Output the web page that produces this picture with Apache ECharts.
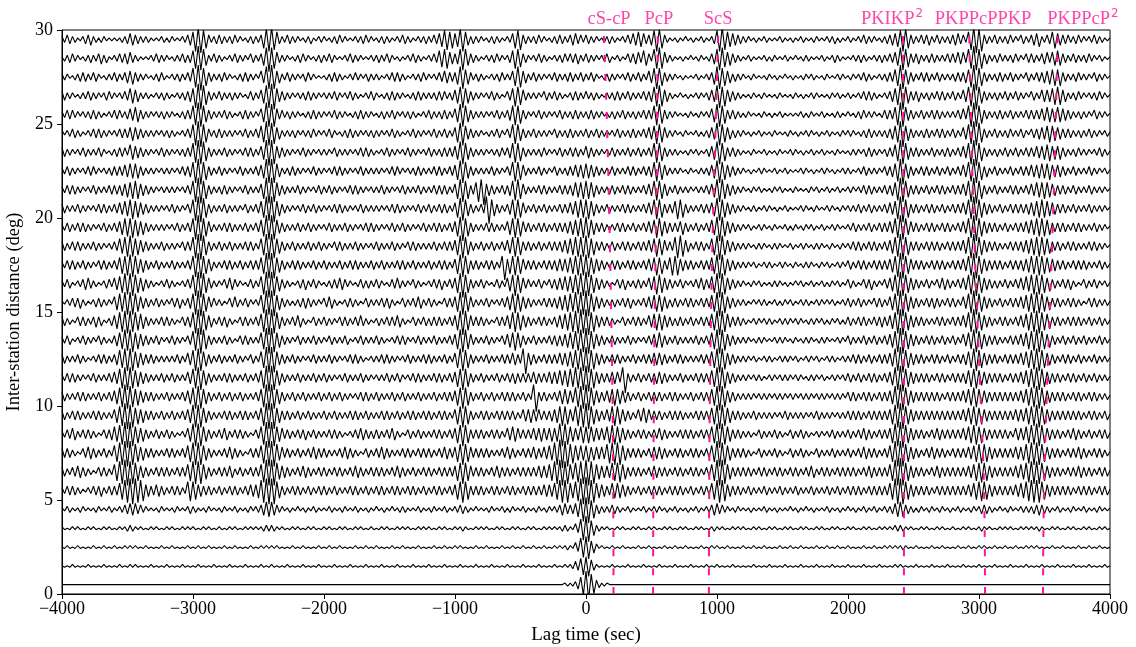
<!DOCTYPE html>
<html><head><meta charset="utf-8">
<script src="https://cdn.jsdelivr.net/npm/echarts@6/dist/echarts.min.js"></script>
<style>html,body{margin:0;padding:0;background:#fff}#c{width:1136px;height:647px}</style>
</head><body><div id="c"></div>
<script>
// ---- sample grid of the traces: each chunk = 400 s, one sample every 20 s, starting at -4000 s
const T0 = -4000, STEP = 20, CHUNK_SEC = 400;
// amplitude code: j..a = -10..-1, 0..9 = 0..9 (units of 0.08 deg)
const CODE = 'jihgfedcba0123456789';
const UNIT = 0.08;

const traceDistances = [0.5,1.5,2.5,3.5,4.5,5.5,6.5,7.5,8.5,9.5,10.5,11.5,12.5,13.5,14.5,15.5,16.5,17.5,18.5,19.5,20.5,21.5,22.5,23.5,24.5,25.5,26.5,27.5,28.5,29.5];

const traceWaves = [
// 0.5
"00000000000000000000 00000000000000000000 00000000000000000000 00000000000000000000 00000000000000000000 00000000000000000000 00000000000000000000 00000000000000000000 00000000000000000000 0000000000001a1a2c5g 9j7f3b1a100000000000 00000000000000000000 00000000000000000000 00000000000000000000 00000000000000000000 00000000000000000000 00000000000000000000 00000000000000000000 00000000000000000000 000000000000000000000",
// 1.5
"0a0a1a0a0a1a0a0a1a0a 0a1a0a1a1a0a0a1a0a0a 1a0a0a1a0a0a1a0a0a1a 0a0a1a0a0a1a0a0a1a0a 1a0a0a1a0a0a1a0a0a1a 0a0a1a0a0a1a0a0a1a0a 0a1a0a0a1a0a0a1a0a0a 1a0a0a1a0a0a1a0a0a1a 0a0a1a0a0a1a0a0a1a0a 0a1a0a0a1a0a1a1b3c5f 6g4c1a0a0a1a0a0a1a0a 0a1a0a0a1a0a0a1a0a0a 1a0a0a1a0a1a0a0a1a0a 0a0a1a0a0a1a0a0a1a0a 0a1a0a0a1a0a0a1a0a0a 1a0a0a1a0a0a1a0a0a1a 1a0a0a1a0a0a1a0a0a1a 0a0a1a0a0a1a0a0a1a0a 0a1a0a0a1a0a0a1a0a0a 1a0a0a1a0a0a1a0a0a1a0",
// 2.5
"0a1a0a1a0a0a1a0a1a0a 1a0a1a1a1a0a1a0a0a1a 0a1a0a0a1a0a1a0a1a0a 0a1a0a1a0a0a1a0a1a1a 1a1a0a0a1a0a1a0a0a1a 0a1a0a1a0a0a1a0a1a0a 1a0a0a1a0a1a0a0a1a0a 0a1a0a1a0a1a1a0a0a1a 0a1a0a0a1a0a1a0a1a0a 1a0a1a0a1a1a1b1a3c6g 7h4d2a1a0a1a0a1a0a0a 1a0a1a0a0a1a0a1a0a1a 0a0a1a0a1a1a0a1a0a0a 1a0a1a0a1a0a0a1a0a1a 0a1a0a0a1a0a1a0a1a0a 1a0a0a1a0a1a0a1a1a1a 1b1a0a1a0a0a1a0a1a0a 0a1a0a1a0a1a1a0a1a0a 1a0a1a0a1a1a1a0a0a1a 0a1a0a0a1a0a1a0a1a0a0",
// 3.5
"1a0a1a1a0a1a1a0a1a1a 0a1a1b2b1a1a0a1a1a0a 1a1a0a1a1a1a0a1a1a0a 1a0a1a1a0a1a1a1a1b2b 2b1a1a0a1a1a0a1a1a0a 1a1a0a1a1a0a1a1a0a1a 0a1a1a0a1a1a1a0a1a1a 1a0a1a1a0a1a1b1a0a1a 1a1a0a1a1a0a1a1a0a1a 1a0a1a1a1a1b2b1a3c6h 8i5e2b1a1a0a1a1a0a1a 1a0a1a1a0a1a1a0a1a1a 0a1a1a0a1b1a1a0a1a1a 1a0a1a1a0a1a1a0a1a1a 0a1a1a0a1a1a0a1a1a0a 1a1a0a1a1a0a1a1a1a2b 2b1a1a0a1a1a0a1a1a0a 1a0a1a1a0a1b1a1a0a1a 1a1a0a1a1a1a1b1a0a1a 1a0a1a1a0a1a1a0a1a1a0",
// 4.5
"1a2b1a1b2a1a1b2a1a2b 1a2b3c4d4c3b2a1a1b2a 1a1b2a1a2c2b1a1b2a1a 1b2a1a2b1a1b2a2b3d5e 5d3b2a1b1a2a1b1a2b1a 1a2b1a1b2a1a2b1a1b1a 2a1b1a2a1b2b1a1a2b1a 1b2a1a2b1a2b3c2b1a2a 1a1b2a1a2b1b2a1a2b1a 1b2a1b2a2b3d4c3c4e7h 8i6f3c2b2b3c2b1a2b1a 1a2b1a2b2a1b1a2b1a1b 1a2b1a2b3d4c3b2a1b2a 1a1b1a1a2b1a1b1a1a2a 1b1a2a1b1a1a2b1a1b1a 2a1b1a2b1a2b1a2b2c4e 5e3c2b1b2a1b2a1b2a1b 1a2b1a1b2a2c3c2b1a2a 1b2a1a2b2b2c3d3c2b1a 2b1a1b2a1a2b1a1b2a1a1",
// 5.5
"2b3c3c2b1a2b3c3d2b3c 3c5f7h8i8h7g4d3c4d3c 2b3c3c2b6g6f4d3c3c2b 3c2b3c3c2b3c4d4e7h8i 8i6e3c2b3c3c2b3c2b3c 3c2b3c2b2b3c3c2b3c2b 3c3c2b3c3c2b3c3c2b3c 2b3c3c2b3c4f6h6f3c3c 3c2b3c3c2b3c3c2b3c3c 3c3c4d4d5f7h7h5e6g8i 9i7h5e4d3c5e5e4d3c2b 3c2b3c3c3c2b3c3c3c2b 3c2b3c3c5f7h7g4d3c3c 2b3c2b2b3c2b2b3c2b2b 3c2b2b3c2b2b3c2b3c2b 3c3c3c2b3c3c3c3c5f8i 8i6f4d3c3c3c2b3c3c3c 3c3c3c4d5f6g6f4d3c3c 3c3c4d5e6g7h7h6f4d3c 3c3c3c2b3c3c3c2b3c3c1",
// 6.5
"3c2b3c4d3c2b1a3c3c2b 5f7h8i7h6f4d3c2b3c3c 3c2b3c3c5f7h7h5e3c2b 3c3c4d2b3c2b3c3c5g8i 8i6e4d3c2b3c4d3c2b3c 3c2b3c3c2b3c4d3c2b3c 3c3c2b3c4d3c2b3c2b3c 3c2b3c3c3c4f6h6f4c3c 3c2b3c4d3c3c2b3c3c3c 3c4d4d5f7h8i7h5e6g7h 8i7h5e4d4d6f6g5e3c3c 3c2b3c4d3c3c2b3c3c2b 3c3c2b3c5f8i8h5e3c3c 3c3c2b3c3c2b3c3c2b3c 3c2b3c4d2b3c3c2b3c3c 3c3c2b3c4d3c3c3c5f8i 9i6f4d3c3c2b3c4d3c3c 3c3c3c4d5f6g6f4d3c3c 3c3c4d5e6g7h7h6f4d3c 3c2b3c3c4d3c3c2b3c3c1",
// 7.5
"3c3c2b1a3c4d3c2b3c2b 5f7h8i8h6f4e3c3c2b2b 3c3c2b3c5f7h7h5e3c2b 2b3c4d3c2b1a3c3c5g8i 8i6e4c3c2b3c2b3c4d3c 3c2b2b3c4d3c2b1a3c2b 3c4d3c2b2b3c3c2b3c3c 3c2b3c4d3c4f6h6f4c3c 3c3c2b2b3c4d3c2b3c3c 4d3c4d5e7h9j8i6g5e5e 5f4e4d4d6g7h7h5e3c3c 3c2b3c4d4d3c2b3c3c2b 3c3c2b3c5f8i7h5e3c3c 3c2b1a3c2b2b3c2b1a3c 2b3c2b1a3c2b2b3c2b2b 3c2b3c4d3c3c2b3c5f8i 8i6f4d3c2b3c4d3c3c2b 3c3c3c4d5f6g6f4d3c3c 3c3c4d4e6g7h7h6f4d3c 3c2b3c3c4d3c2b3c3c2b1",
// 8.5
"2b3c4d2b3c3c2b1a3c3d 5e6g8i8h5f4e3c2b3c2b 3c2b1a2b4e7h7h5e3c2b 3c4d2b3c3c2b1a3c5g8i 8h5e4c3c2b3c3d2b3c2b 2b3c3c2b1a2b3c4d3c2c 3c2b3c4d2b1a3c2b3c2b 2b3c3c2b3c4f6h6f3c3c 3c2b3c3c2b4d5e4c3c3c 4d4e4d4e4e7h7g5e4d5f 5f5e4d4d5f6g5f4d3c2b 3c3c2b3c4d3c2b2b3c3c 3c2b3c3c5f7i7g5e3c3c 2b2b1a3c2b2b3c2b1a3c 2b3c2b1a2b2a2b3c2b2b 3c2b3c4d3c2b3c3c4f7h 8i6f4d3c3c2b3c4d3c3c 3c3c4d5f6g5f4d3c3c3c 3c2b4d4d5f6g7h6f4d3c 3c2b3c4d3c2b3c2b3c3c1",
// 9.5
"3c2b3c3c2b2b3c3c2b2b 4e6g8i7h5f4e3c3c2b3c 2b3c2b3c4e7h7h5e3c2b 2b3c3c2b3c3c2b3c5g8i 8i5e3c3c2b3c2b3c2b2b 3c2b3c2b2b3c3c2b3c2b 2b3c3c2b3c2b3c3c2b3c 3c2b3c3c2b4f6h6f3c2b 3c3c2b3c3c3c3c2b4d4e 4d4c3c3d4e6g6f4d6g7h 8i6f4d3c4d6g6f4d3c2b 4d5e4c3c3c2b3c3c3c2b 2b3c3c3c5f7i7g5e3c3c 2b2b3c2b2b2b2a2b3c2b 2b2b2a2b3c2b2b2a2b2b 3c3c3c2b3c3c3c3c4f7h 8i6f4d3c3c3c3c3c3c3c 3c3c4d5f6g5f4d3c3c3c 3c3c4d4d5f6g7h6f4d3c 3c3c3c3c3c2b3c3c2b3c1",
// 10.5
"3c2b2b3c3c2b2b3c2b3c 4e6g8h7g5f4d3c3c2b2b 3c2b2b3c4e6h7h5e3c2b 3c2b3c2b3c2b2b3c5g8i 8h5e3c2b3c2b3c2b2b3c 2b3c2b3c2b2a2b3c3c2b 3c2b2b3c2b3c2b2b3c2b 2b3c2b3c3c4f6h6f3c2b 3c2b3c2b3c3c3c2b3c2b 8j3c3c2b3c4e5e4d6g7h 8i6f4d3c4d5f5e4d3c2b 3c2b3c3c3c2b3c3c2b2b 3c2b3c3c5f7i7g4d3c2b 2b2b2a2b2b2a2b2b2a2b 2a2b2b2a2b2b2a2b2b2a 3c3c2b3c3c2b3c3c4e7h 8i6f4d3c3c3c3c3c2b3c 3c3c4d5f6g5e4d3c3c3c 3c3c3c4d5f6g7h6f4d3c 3c3c2b3c3c2b3c3c2b2b1",
// 11.5
"2b3c3c2b2a2b3c2b2b3c 4d6g7h7g5f4d3c2b2b3c 2b3c2b2b4d6g7h5e3c2b 2b3c3c2b2b3c2b3c5g8i 8h5e3c2b2b3c2b2b3c2b 3c2b2a2b3c2b2b3c2b2a 2b2b3c2b3c2a2b3c3c2b 2b3c3c2b3c4f6h6f3c2b 3c2b2b3c2b3c3d3c3c3c 4d3c3c4d4d5e5f6f7g7h 8i6g4d3c3c4d4c7j3c2b 3c2b3c3d4d3c2b2b3c2b 2b3c3c3c5f7i7g4d3c2b 2b2a2b2b1a2b2a2b2b2a 2b2a1b2b2a2b1a2b2a2b 3c2b3c2b3c3c2b3c4e7h 8i6f4d3c3c3c2b3c3c2b 3c3c3d5f6g5e4d3c3c3c 2b3c3c4d5f6g7h6f4d3c 3c2b3c3c2b3c2b3c2b2b1",
// 12.5
"3c2b2b3c2b1a2b3c3c2b 3d6f7h7h5f4d3c3c2b2b 2b2b3c2b4d6h7h5e3c2b 3c2b2b3c2b2a3c2b5f8i 8i5d3c2b3c2b2a2b3c2b 2b3c2b2a2b3c3c2b1a2b 2b3c3c2b2a2b3c2b2b3c 3c2b2b3c2b4f7h6f3c2b 2b3c2b2b3c3c4d3c7j4d 3c2b3c3c3c4d4e5f6g7h 8i6g4d3c2b3c3c2b2b3c 2b3c3c4d4d3c2b3c3c2b 2b2b3c3c5f7i7g4d3c2b 2b2a2b1a2b2b1a2b2b2a 2b1a2b2a2b1a2b2b1a2b 2b3c3c2b3c2b3c3c4e7h 8i6f4d3c3c2b3c3c2b3c 2b3c3d5f7h6f4d3c3c2b 3c3c3c4d5f6g7h6f4d3c 2b3c3c2b3c2b2b3c2b2b1",
// 13.5
"2b3c1a2b3c2b2a3c2b1b 3d5f7g7h5f4d3c2b3c2a 2b3c2b2a3c6g8i7f3c2b 2b3c2b1a3c3c2b2b5f8i 8h5e3c2b2a3c2b2b3c2b 2a3c2b2b3c1a2b3c2b2b 3c2b1a2b3c3c2a2b3c2b 2b3c2b2b3c4f7h7f4c2b 2b3c2b2a3c4e5g5e3c2b 3c2b2b3c3d3d4e5f6g7h 8i6f4d3c2b3c2b2b3c2b 2a2b3c4e5e3c2b3c2b2b 2b3c2b3c5f7i7g4d3c2b 2b2a1b2b2a1a2b2b2a1b 2a1b2b2a1b2b2a1a2b2a 3c2b2b3c2b3c2b3c4e6h 8i6f4d3c2b3c3c2b3c2b 3c2b4d5f7h6f4d3c3c2b 2b3c3c4d5f6g7h6f4e3c 2b3c2b3c2b3c2b2b3c2b1",
// 14.5
"3c2b1a3c3c2b3d3c1a2c 4e6g7h7g6f5e3c2b2b3c 3c2b1a3c3d6h8i7f4d2b 3c3d2b1a3c3c2b3c5g8i 8h6e3c2b3c4d2b1a3c2b 3c2b2a3c3c2b3c4c2b1a 2c2b3c3c4d2b1a3c2b3c 2c3c3c2b3c4f7i7f4c3c 3c2b1a3c3c4e6g6f4d3c 2b3c3c2b3d4e5f6g7h8h 8i6g4d3c3c2b1a3c2b3c 3c2b4d5f5f4d3c2c3c2b 3c2b3c3c5f7i7g5d3c3c 2b1a2b2a2b2b1a2b2b2a 2b2a1b2b2a2b1b2a2b1b 3c2b3c3c2b3c3d3c4e6h 8i6f4d3c3c2b2b3c3c2b 3c3c4d6g8h6f4d3c2b3c 3c2b3c4d5f6g7h6f5e3c 3c2b3c3c3c2b3c2b3c2b1",
// 15.5
"1a2b3c3d2b1a2c3c2b2a 4e6f7h7h6f4d3c2b3c2b 2a3c3d2b3d6h8i6f4c3b 2b1a3c4c2b3c2a2b5g8h 8i5e3c2b1b2c3d3c2b2a 3c4d2b1a2c3c2b1a3c2b 2b3c3d2b1a3c2b3c4d2b 3c2b1a3c3c4f7h7f4c2b 2b3c2a2b3c4e6g6f4d3c 2b2b3c3c3d4e5f6f7g7h 8i6f4d3c2b2c2b3c3d2b 2b3c4d5f5f4d2c3c2b3c 3c2b3c3c5f7i7g4d3c2b 2b1a2a2b2b1a2b1b2a2b 1a2b2b1a2b2a2a2b1a2b 3c2b3c2b2a3c3c2b4e6h 8i6f4d3c2b3c3d3c2b3c 3c2b4d6g8h6f4d3c2b3c 2b3c3c4d5f6g7g6f4e3c 3c2b3c3c2b1a3c3c2b2b1",
// 16.5
"2b3c1a2b3d4c2b1a2c3b 4d5f7g7h6f4e3c2b1a2b 3c2b1a2b3c6h8i7f4c2b 2a3c4d3b2a1b3c2b5g8i 8h5e3c2b1a2c3d2b3c2a 1b2c3c4d3b2a1b3c2c2b 3c2a1b3c4c2b2a3c2b1a 2b3c3d2b3c4f7i6f3c2b 3c2a1b3c2b4e6h6f4c3b 2b3c2a3c3d4d5e5f6g7h 8h6f4d3c2b1a3c3d2b2c 3c2b4d5g6f4d3c2b3c2a 2b3c4d3c5f7i7g4d3c2b 2a1b2a2b1a1b2b2a1b1a 2a2b1a2b1a2b1b2a2b1a 3c2b1a3c3d2b2a3c4e6h 8h6f4d3c2b3c2a3c4d3c 2b3c4d6g8h6f4d3c2c2b 3c2b3c4d5e6g6g6f4e3c 2b3c3d2b1a3c2b3c2a2b1",
// 17.5
"2b3c3c2b3c2b2a3c3c2b 3c5f6g7h6f4e3c2b3c2b 2b3c2b2b3c6h8i6f4d2b 2b3c3c2b3c2b3c3c5f8i 8i5e3c2b3c3c2b2b3c2b 3c2b2b3c2b3c3c2b2b3c 2b3c2b2b3c3c2b3c2b2b 3c2b3c3c2b4f7h6f3c3c 2b3c3c2b6j4f6g6f4c3c 3c2b3c3c3d4d4e5f6g7g 7h5f4d3c2b3c3c2b3c3c 2b3c4d5g5f3c5g6g4d3c 3c2b3c3c5f7i7g4d3c2b 2b2a2b1a2b2b1a2b2a1b 2a1b2b2a1b2a2b1a2b2a 3c2b3c3c2b3c3c3c4e6h 8i6f4c3c3c2b3c3c3c2b 3c3c4d6g8i6f4d3c3c3c 2b3c3c3d4e6f6g6f5e4d 3c3c2b3c3c3c2b2b3c2b1",
// 18.5
"3c2b3c3c2b2b3c2b2a2b 3c5e6g7g5f4d3c2b2b3c 2b2b2a3c3c6h8i7f3c2b 3c2b3c2b2b3c3c2b5f8i 8h5e3c2b3c2b2b3c2b3c 2b2a3c3c2b2b3c2b2a2b 3c2b2b3c2b2a3c3c2b2b 2b3c2b3c3c4f7h6f3c2b 3c2b3c2b3c4e6g6f3c3c 2b3c2b3c3c3d4e5f6g6g 7h5f3c3c2b3c2b3c3c2b 3c3c4d5g5f4c3c6h7g4d 2b3c3c2b5f7i7f4d3c2b 2b2a1b2b2a1b2b2a1a2b 1a2b2a1b2b2a1b2a1b2a 2b3c3c2b3c3c2b3c4e6g 8i6f3c3c2b3c3c3c2b3c 3c3c4e6h8h6f4d3c3c2b 2b3c3c3d4e5f6g6f5e3c 3c2b3c3c2b2b3c3c2b2a1",
// 19.5
"2b3c2b3c3c2b2a2b3c2b 3c4e6f6g5f4e3c2b2b2b 2a2b3c2b3c6h8i6f4c2b 2b3c3c2b2b3c2b3c5f8h 8h5d3c2b2b3c2b3c2b2a 2b3c2b2b3c2b2a2b3c3c 2b2a2b3c2b3c2b2a2b3c 2b3c3c2b3c4f7i6f3c2b 2b3c3c2b2b4e6g6f4c3c 2b3c3c2b3c3c3d4e5f6g 7g5e3c3c2b2b3c3c2b3c 2b3c4d5g6f4d3c3c4e3c 2b3c2b3c5e7i7f4d3c2b 2a2b1a2b2a1b2a1a2b1b 2a1b2a2b1a2b1a2b2a1a 2b3c2b2b3c2b3c3c4d6g 8h6e4c3c2b3c3c2b3c3c 2b3c4d6g8i6f4d3c3c2b 3c2b3c3c4d5e6f6f5e3c 3c3c2b3c3c2b2b3c2b2a1",
// 20.5
"3c2b2b3c2b2a2b3c3c2b 3c4d5e6g5f4d3c2b2b2a 2b3c2b2a3c6h8i7f3c2b 2b3c2b2b2a3c2b3c5f8h 8i5e3c2b2a2b3c2b3c2b 2a2b3c3c2b2a2b3c2b2b 2b2a2b3c3c2b2a2b3c2b 3c2b3c3c2b4f7h6e3c2b 3c8j6e3c2b3d6g6f4c2b 3c2b3c2b2b3c3c4d5f6f 6g5e3c2b3c2b2b3c3c2b 2b3c4d6g6f3c3c5g6f3c 2b2b3c3c4e7h6f4d3c2b 2a1b2b1a2b2a1b1a2b1a 1a2b2a1b2a1a2b2a1b2a 2b2b3c2b3c2b2b3c4d5g 8i6f3c3c2b3c3c2b3c2b 3c3c4d6g8h6f4d3c2b3c 2b3c3c3c3d4e5f6f5e4d 3c3c2b3c2b2b3c2b2b2a1",
// 21.5
"2b3c3c2b2a2b3c2b2b3c 3c3d4e5f6f4d3c2b2a2b 2b2b2a2b3c6h8i6f3c2b 2c3c2b2a2b3c2b2b4f8i 8h5d3c2b2b3c2b2a2b3c 2b3c2b2a2b3c3c2b2a2b 2b3c2b2a2b3c2b2b3c2b 2b3c3c3c2b4f7h6f3c5h 7j4d3c2b3c3d6g7f4c2b 2b3c3c2b2b3c3c3d5e5f 6f5e3c2b2c3c2b3c3c2b 2b3c4d6g6f4d2b3c2b2b 2a2b2b3c4e7h7f4d3c2b 2a1b2a2b1a1b2a2b1a1b 2a1a1b2a2b1a2b1a2b1a 2b2a2b3c3c2b2b3c3d5g 8h6e3c3c2b3c2b3c3c2b 3c3c4d6h8i6f3c2b3c2b 2b3c3c2b3c4d5e5f5e4d 3c3c2b3c2b2b3c2b2b2a1",
// 22.5
"2b3c2b2a2b3c3b2a2b2c 3c3c4d5e5e3c2b2b2a2b 2b2a2b3c3d6h8i6f3c2b 3c2b2a2b3c2b2b3c4e8h 8h5d2b2c3c2b2a2b3c2b 2a2b3c3c2b2a2b3c2b2b 2b2a2b3c3b2a2b2c3c2b 2b3c3c2b3c4f7h6e3c2b 2b2b3c2b2a3c6g6f4c2b 2b3c2b2a3c2b2c3c4d4e 5e4d3c2b2b3c2b2b3c3c 2b3c3d6g6f4c2b2b2a1b 2a1b2b2c4e7h6f4d3c2b 2a1b1a2b2a1a2b1a2b1a 1a2b2a1b1a2b2a1b1a2b 2b1a2b3c2b2b2a3c3d5g 8i5e3c2b3c3c2b3c2b3c 2b3c4d6g8h6f3d2b3c2b 2b3c2b3c3c4d4e5e5f4d 4d3c2b3c2b2b3c2b2a2b1",
// 23.5
"3c2b2a2b3c2b2b3c2a1b 2c3c3b5e4d3c2b2a2b3c 2b2a2b2c3c6g8h7f3c2b 2b3c2b2a2b3c3c2b4e8i 8h4d3c2b2a2b3c2b2a2b 2b2a3c2b2b2a2b3c3c2b 1a2b3c2b2a2b3c2b2a2b 3c2b2c3c3c4e7h6e3c2b 2b2a2b2c3b3d6g6f3c2b 2b2c3b2a2b3c2b3c3c2b 4d3c2b2a2b3c2b2b3c2b 3c2b3c6g6f3c2b2b1a1b 2a2b1a2c4e7h6f3c3c2b 1a1b2a1a2b1a1b2a1a2b 2a1b1a2b1a2b1a1b2a1a 1b2b2a2c3c2b2a2c3c5f 8h6e3c3c2b2b3c2b2c3c 2b3c4d6h8i6f3c2b2c2b 3c2b3c2b3c3c4d4e5f4e 4e3c2b2c3b2b2a2b3c2b1",
// 24.5
"2a2b3c2b1a2b3c3c2b2a 2b3c3c4e4d3c2b2b2a2b 2c2b1a2b3c6h8i6f3b2c 3c2b2b2a2b3c2b3c5f8h 7g4d2b2b2c2a2b2c3b2a 2b3c2a1b2c3c2b2a2b2c 2b2a2b3c2b1a2b3c2b2a 2b3c2b3c2b4f7h5d3c2b 2a1b2b3c2a3c6g6e3c2b 3c2b2b2a3c2b2c3c2b2b 3c2b3c2b2a2b3c2b2c3c 2b3c4d5g6f4c2b2a1b2a 1a2b1b2c4d7h6f4d2c2b 2a1b1a2b1a1b2a1a1b2a 1b1a2b2a1b1a2b1a1b2a 2b2a1b2c3c2b2b2c3d5f 8i5e3c2b2c3c2b3c3c2b 3c2b4d6g8h7f3c2b3c2b 2c3b2b3c2a3c3d4d5f5e 4d3c3c2b2c2b3c2b2a2b1",
// 25.5
"2b3c3b2a2b2c3c2b1a2b 3c3b2c4d5e3c2b2a2b2c 2b2a1b2c3c6g8h6e3c2b 2b3c2b1a2c3c2b2a4e8h 7h4c3b2c2b2a1b2c3c2b 2a2b3c2b2a1b2c3c2b2a 1b2c2b3c2a2b2c2b1a2b 3c2b2c3c2b4e7h6e3c2b 2b2a2b3c2b3d6g6f3c2a 2b3c2b2a2b3c2b2c3c2b 2c3c2b2a1b2c2b3c2b2c 2b3c3c6g7f3c2b2a1a1b 2a1b2a2b4e7h6f3c3c2b 1b2a1a1b2a1b1a2b1a1a 1a2b1b2a1a2b1a1b2b1a 2a1b2c3b2b2a1b3c3c5g 8h5d3c2b3c2b3c3c2b2b 2b3c4c6h8h6f3c2b2c3c 2b3c2b2b3c3c3c4d5e4e 5e4d3c2b2c2b2a3c2b2a1",
// 26.5
"3c2b2a1b2b3c2b2a2c3b 2a2b3c5e4d2b2b1a2b2c 2b1a2b2c3d5h8i7f3c2b 3c2b2c2b2a1b3c2b4e7h 8i5d3c2b2a2b2c3c2b2a 2b2b3c2a2b3c2b1a2b3c 2a1b2c3c2b2a1b2c3c2b 2b2c3c3b2c4e6h5e3c2b 2a2b3c2b1a3c5g6f4c2b 2b2a3c2b3c2b1a2c3c2b 3b2c2b1a2b2c3c2b3c2b 2b3c3d6g7g4d2b1a2a1b 1a2b2a2c4d7h6g4d3c2b 1a1b2a1b2a1a1b2a1a1b 2a1b1a2b2a1a1b2a2b1a 2b1a2b3c3c2b1a2b3d5f 8i6e3c3d2b2c2b3c3c2b 3c2b4d6g8i6e3c2b2c2b 3c2b3c2b2a3c2b4d4d5f 6f4d2b2c3b2a2b2c3b2a1",
// 27.5
"2b2a1b2c3c2b3c2a1b2b 3c2b3d4e3c2b2a1b2c3b 1a2b2c2b3c6g8i6f3c2b 2c3b2a1b2c3c2b2a4d7h 8h4d2b3c2b2a2c3b2a1a 1b2c3c2b1a2b3b2a2c2b 2b1a2b3c3c2b1a2b2c3b 2a2b3c4d3c3e7h5e3b2c 2b1a2b2c3b2b4f7g4d2b 3c2b2a2b3c2b2c3c2b3c 2b3c2a1b2c2b2a2b3c2b 3c2b4d6h6f3c2b2a1b1a 1a2b1a2b3e7h6f4d2c2b 2a1b2a1a1b2a1b1a2a1b 1a1b2a2b1a1b2a1a2b2a 1b2a2b3c2b1a2b2c3c5f 8h5e3c2b3c3c2b3c2b2b 2c3c3d5g8i6f3c2b2c3c 2b3c2b2a3c2b3c3d4e5f 5f3c2b2c3b2b2a3c2b2a1",
// 28.5
"1b2c3b2a1b2c2b3d2c1a 2b3c3d4c2b1a1a2b3c2b 2a1b2b3c2c5g8h6e2b3c 2b1a2b3c2b2a3c2b3e7i 7g4c2b2a1b2c3b2a1b2c 2b3c2a1a2b3c2b2a1a2b 2c2b3c2a1b1a2b3c2b1a 2b3c5f6g4d3d6h6e3c2b 1a2b2c3b2a2c5g6f3c2a 2b3c2b1a2b2c3b3c3d2b 3c2b2a2b3c1a2b1a3c3d 4c5e3b6g7g4c2b1a1b1a 2a1b2a1b3d6h7f4e3c2b 1a2b1a1a2b1b2a1a2b1a 2a1b2b1a1a2b1a2c2b1a 1a2b2c2b1a2b2c2b3c4e 7h6f3c3d2b2c3c2b2b3c 3c4d4c6g8h6g3d2b2c3b 2b2c3b2a3c3c2b3d4c4e 5e3c2b3c2b2c3b2a2b1a1",
// 29.5
"2b3c2b1a2c3d2b1b2a1a 1a1b2c4d3c2b2b1a1a2b 1b2a1a2b3d5h8i6f3b2c 3c2b2c3b2a1b2c2b3f7h 8g5c2b3c2b2a1b2c1a2b 2a1b2c3b2a1a2b2c3b2a 1b2c2b1a2b3c2b1a2b2c 2b3c4e6g5f4e7h5d2c2b 2a1b2c2b1a2b4f6g3c2b 2c3b2a1b2c3c2b3d4c3b 3c2b2a1b2c2b1a2b3c4d 5e4c3d6h7f3b1a1b1a2a 1b1a2b1a2c6h8g5e4d3c 2b2a1b1a2b1a1a2b1a1b 1a2b1a1b2a1a2b2c1b1a 2b1a2b3c2b2a1b2c3d4e 6h7f3c2b3c3d2b3c2b2c 3d4c3b5g8i7h3c2b3c2b 2c3b2a3c2b3d4e2b3c5f 4d3c3b2c3b2a2b3c2b1a1"
];

// ---- travel-time curves (lag time, s) at these distances (deg)
const phaseDist = [0, 5, 10, 15, 20, 25, 30];
const phaseNames = ['cS-cP', 'PcP', 'ScS', 'PKIKP2', 'PKPPcPPKP', 'PKPPcP2'];
const phaseTimes = [
  [210, 208, 203, 192, 178, 160, 135],
  [512, 514, 518, 525, 535, 542, 548],
  [938, 940, 945, 955, 970, 990, 1010],
  [2427, 2427, 2427, 2426, 2424, 2422, 2420],
  [3046, 3040, 3015, 2985, 2960, 2940, 2925],
  [3489, 3495, 3515, 3540, 3565, 3585, 3600]
];
const phaseLabelTimes = [176, 557, 1008, 2336, 3031, 3794];
const phaseLabelText = ['{m|cS-cP}', '{m|PcP}', '{m|ScS}', '{m|PKIKP}{s|2}', '{m|PKPPcPPKP}', '{m|PKPPcP}{s|2}'];

const xTicks = [-4000, 4000, 1000];
const yTicks = [0, 30, 5];

const FONT = '"Liberation Serif", "Times New Roman", Times, serif';
const SUPFONT = '"DejaVu Sans", sans-serif';
const PINK = '#ff1493';

function decode(str, dist) {
  const chunks = str.trim().split(/\s+/);
  const pts = [];
  chunks.forEach((c, k) => {
    const n = k === chunks.length - 1 ? c.length : Math.min(c.length, 20);
    for (let j = 0; j < n; j++) {
      const idx = CODE.indexOf(c[j]);
      if (idx < 0) continue;
      pts.push([T0 + k * CHUNK_SEC + j * STEP, dist + (idx - 10) * UNIT]);
    }
  });
  return pts;
}

const series = [];
traceWaves.forEach((w, i) => {
  series.push({
    type: 'line', data: decode(w, traceDistances[i]), symbol: 'none', showSymbol: false,
    lineStyle: { color: '#000', width: 1.1 }, silent: true, z: 2, clip: true, animation: false
  });
});
phaseTimes.forEach((arr, p) => {
  series.push({
    type: 'line', name: phaseNames[p], data: phaseDist.map((d, i) => [arr[i], d]), symbol: 'none', smooth: true,
    lineStyle: { color: PINK, width: 2, type: [7, 12] }, silent: true, z: 5, animation: false
  });
});
series.push({
  type: 'scatter', symbolSize: 0, silent: true, z: 6, clip: false, animation: false,
  data: phaseLabelTimes.map((t, i) => ({ value: [t, 30], label: { formatter: phaseLabelText[i] } })),
  label: {
    show: true, position: 'top', distance: 1,
    rich: {
      m: { fontFamily: FONT, fontSize: 18.5, color: PINK, lineHeight: 24, verticalAlign: 'bottom' },
      s: { fontFamily: SUPFONT, fontSize: 12, color: PINK, lineHeight: 24, verticalAlign: 'top', padding: [3, 0, 0, 1] }
    }
  }
});

const chart = echarts.init(document.getElementById('c'), null, { renderer: 'canvas' });
chart.setOption({
  animation: false,
  backgroundColor: '#fff',
  grid: { left: 62, right: 26, top: 30, bottom: 53, containLabel: false, outerBoundsMode: 'none',
    show: true, borderColor: '#000', borderWidth: 1, backgroundColor: 'transparent' },
  xAxis: {
    type: 'value', min: xTicks[0], max: xTicks[1], interval: xTicks[2],
    name: 'Lag time (sec)', nameLocation: 'middle', nameGap: 32,
    nameTextStyle: { fontFamily: FONT, fontSize: 19, color: '#000' },
    axisLine: { show: true, onZero: false, lineStyle: { color: '#000', width: 1 } },
    axisTick: { show: true, inside: false, length: 5, lineStyle: { color: '#000' } },
    axisLabel: { fontFamily: FONT, fontSize: 18, color: '#000', margin: 6, showMinLabel: true, showMaxLabel: true,
      formatter: v => v < 0 ? '\u2212' + (-v) : String(v) },
    splitLine: { show: false }
  },
  yAxis: {
    type: 'value', min: yTicks[0], max: yTicks[1], interval: yTicks[2],
    name: 'Inter-station distance (deg)', nameLocation: 'middle', nameGap: 37,
    nameTextStyle: { fontFamily: FONT, fontSize: 18.5, color: '#000' },
    axisLine: { show: true, onZero: false, lineStyle: { color: '#000', width: 1 } },
    axisTick: { show: true, inside: false, length: 5, lineStyle: { color: '#000' } },
    axisLabel: { fontFamily: FONT, fontSize: 18, color: '#000', margin: 9, showMinLabel: true, showMaxLabel: true },
    splitLine: { show: false }
  },
  series: series
});
</script></body></html>
